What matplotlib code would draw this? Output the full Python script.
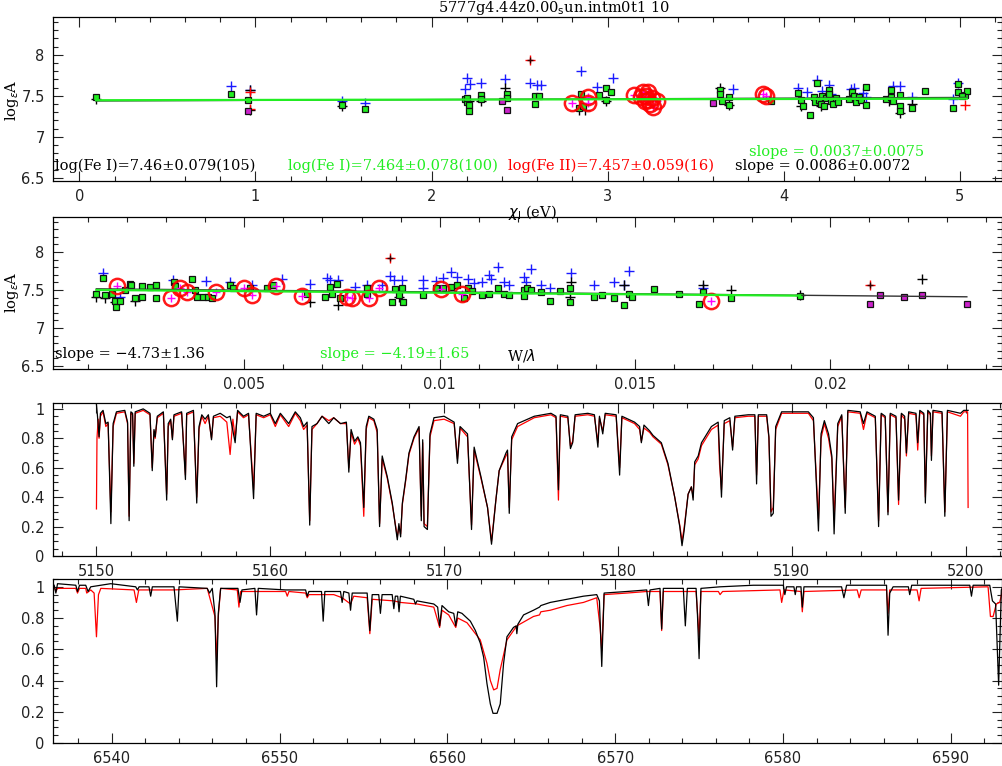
import matplotlib
matplotlib.use("Agg")
import matplotlib.pyplot as plt
from matplotlib.ticker import MultipleLocator, FuncFormatter

# ---- panel 1: abundance vs excitation potential ----
fe1_chi = [0.095, 0.86, 0.96, 1.49, 1.62, 2.19, 2.20, 2.21, 2.20, 2.21, 2.28, 2.28,
           2.43, 2.43, 2.59, 2.61, 2.59, 2.85, 2.84, 2.86, 2.95, 2.99, 3.02, 2.99,
           3.64, 3.64, 3.65, 3.69, 3.69, 3.93, 4.08, 4.10, 4.11, 4.15, 4.19, 4.17,
           4.18, 4.20, 4.21, 4.22, 4.23, 4.24, 4.26, 4.26, 4.27, 4.28, 4.30, 4.31,
           4.37, 4.39, 4.40, 4.41, 4.43, 4.44, 4.47, 4.47, 4.58, 4.61, 4.61, 4.62,
           4.66, 4.66, 4.66, 4.73, 4.80, 4.96, 4.99, 4.99, 5.03, 5.04, 5.01]
fe1_abd = [7.48, 7.52, 7.45, 7.39, 7.34, 7.46, 7.42, 7.39, 7.47, 7.31, 7.51, 7.46,
           7.52, 7.47, 7.50, 7.50, 7.40, 7.52, 7.35, 7.37, 7.51, 7.60, 7.55, 7.45,
           7.57, 7.52, 7.44, 7.49, 7.39, 7.43, 7.53, 7.45, 7.37, 7.27, 7.65, 7.48,
           7.42, 7.45, 7.40, 7.50, 7.38, 7.47, 7.57, 7.52, 7.44, 7.40, 7.47, 7.42,
           7.46, 7.55, 7.50, 7.42, 7.48, 7.45, 7.61, 7.39, 7.46, 7.57, 7.49, 7.44,
           7.51, 7.37, 7.31, 7.35, 7.56, 7.35, 7.64, 7.55, 7.51, 7.56, 7.50]
rej1_chi = [0.96, 2.40, 2.43, 3.60]
rej1_abd = [7.31, 7.43, 7.33, 7.41]
fe2_chi = [2.80, 2.89, 2.89, 3.15, 3.20, 3.22, 3.23, 3.24, 3.26, 3.21, 3.25, 3.19,
           3.23, 3.28, 3.88, 3.90]
fe2_abd = [7.41, 7.49, 7.41, 7.51, 7.54, 7.50, 7.45, 7.40, 7.36, 7.43, 7.47, 7.48,
           7.55, 7.44, 7.52, 7.50]
blue1_chi = [0.86, 0.97, 1.49, 1.62, 2.19, 2.20, 2.22, 2.28, 2.42, 2.56, 2.60, 2.62,
             2.85, 2.94, 3.03, 3.71, 4.08, 4.13, 4.19, 4.22, 4.26, 4.27, 4.38, 4.40,
             4.45, 4.47, 4.62, 4.66, 4.73, 4.96, 4.99]
blue1_abd = [7.62, 7.57, 7.43, 7.41, 7.58, 7.72, 7.64, 7.65, 7.70, 7.65, 7.63, 7.63,
             7.80, 7.61, 7.72, 7.58, 7.60, 7.54, 7.69, 7.56, 7.63, 7.52, 7.58, 7.60,
             7.53, 7.48, 7.62, 7.62, 7.49, 7.46, 7.65]
black1_chi = [0.095, 0.97, 0.97, 1.49, 2.21, 2.28, 2.42, 2.84, 2.87, 2.99,
              3.64, 3.69, 4.10, 4.21, 4.60, 4.66, 4.73]
black1_abd = [7.46, 7.57, 7.33, 7.37, 7.44, 7.44, 7.59, 7.33, 7.33, 7.44,
              7.60, 7.39, 7.38, 7.37, 7.44, 7.29, 7.40]
red1_chi = [0.97, 0.97, 2.56, 5.03]
red1_abd = [7.55, 7.34, 7.93, 7.39]
dark1_chi = [2.56]
dark1_abd = [7.93]
fit1_chi = [0.095, 5.04]
fit1_all = [7.436, 7.479]
fit1_fe1 = [7.445, 7.464]

# ---- panel 2: abundance vs reduced equivalent width ----
fe1_rew = [0.00121, 0.00138, 0.00143, 0.00160, 0.00168, 0.00171, 0.00181, 0.00194,
           0.00207, 0.00211, 0.00220, 0.00237, 0.00237, 0.00258, 0.00275, 0.00275,
           0.00320, 0.00322, 0.00365, 0.00374, 0.00378, 0.00395, 0.00408, 0.00416,
           0.00463, 0.00472, 0.00515, 0.00557, 0.00574, 0.00660, 0.00707, 0.00720,
           0.00724, 0.00737, 0.00745, 0.00814, 0.00814, 0.00879, 0.00887, 0.00896,
           0.00904, 0.00907, 0.00958, 0.00990, 0.01009, 0.01030, 0.01044, 0.01062,
           0.01073, 0.01084, 0.01109, 0.01126, 0.01150, 0.01165, 0.01178, 0.01216,
           0.01225, 0.01216, 0.01235, 0.01259, 0.01283, 0.01309, 0.01334, 0.01334,
           0.01396, 0.01417, 0.01447, 0.01471, 0.01485, 0.01492, 0.01550, 0.01612,
           0.01665, 0.01674, 0.01746, 0.01923]
fe1_abd2 = [7.45, 7.66, 7.43, 7.45, 7.36, 7.28, 7.36, 7.50, 7.58, 7.56, 7.39, 7.55,
            7.41, 7.54, 7.57, 7.39, 7.61, 7.55, 7.64, 7.50, 7.41, 7.41, 7.41, 7.39,
            7.56, 7.52, 7.53, 7.53, 7.56, 7.45, 7.41, 7.54, 7.45, 7.58, 7.39, 7.52,
            7.45, 7.34, 7.51, 7.44, 7.52, 7.34, 7.44, 7.52, 7.52, 7.54, 7.57, 7.40,
            7.53, 7.48, 7.43, 7.45, 7.53, 7.45, 7.43, 7.50, 7.52, 7.42, 7.50, 7.47,
            7.36, 7.48, 7.53, 7.34, 7.41, 7.44, 7.40, 7.30, 7.45, 7.41, 7.51, 7.45,
            7.32, 7.47, 7.40, 7.42]
rej2_rew = [0.02103, 0.02128, 0.02188, 0.02235, 0.02350]
rej2_abd = [7.32, 7.43, 7.41, 7.44, 7.32]
fe2_rew = [0.00175, 0.00313, 0.00335, 0.00352, 0.00427, 0.00500, 0.00519, 0.00581,
           0.00647, 0.00762, 0.00775, 0.00818, 0.00846, 0.01003, 0.01058, 0.01694]
fe2_abd2 = [7.55, 7.39, 7.53, 7.47, 7.47, 7.52, 7.44, 7.55, 7.42, 7.41, 7.39, 7.39,
            7.53, 7.51, 7.45, 7.36]
blue2_rew = [0.00138, 0.00181, 0.00318, 0.00403, 0.00463, 0.00519, 0.00596, 0.00668,
             0.00711, 0.00720, 0.00741, 0.00784, 0.00814, 0.00852, 0.00874, 0.00883,
             0.00904, 0.00958, 0.00958, 0.00990, 0.01009, 0.01030, 0.01044, 0.01073,
             0.01087, 0.01109, 0.01126, 0.01132, 0.01150, 0.01165, 0.01178, 0.01216,
             0.01220, 0.01235, 0.01259, 0.01283, 0.01336, 0.01396, 0.01447, 0.01472,
             0.01485, 0.01674]
blue2_abd = [7.72, 7.41, 7.63, 7.62, 7.61, 7.57, 7.65, 7.58, 7.66, 7.63, 7.63, 7.54,
             7.56, 7.56, 7.69, 7.63, 7.63, 7.63, 7.53, 7.62, 7.66, 7.73, 7.67, 7.65,
             7.59, 7.60, 7.70, 7.64, 7.80, 7.60, 7.57, 7.67, 7.60, 7.78, 7.56, 7.52,
             7.72, 7.56, 7.60, 7.57, 7.75, 7.52]
black2_rew = [0.00121, 0.00143, 0.00168, 0.00220, 0.00668, 0.00741, 0.00896,
              0.01336, 0.01334, 0.01472, 0.01674, 0.01746, 0.01923, 0.02235]
black2_abd = [7.41, 7.39, 7.34, 7.36, 7.34, 7.30, 7.41, 7.60, 7.41, 7.56, 7.56,
              7.50, 7.43, 7.64]
red2_rew = [0.00874, 0.02103]
red2_abd = [7.92, 7.57]
dark2_rew = [0.00874, 0.02103]
dark2_abd = [7.92, 7.57]
fit2_all_x = [0.00121, 0.02350]
fit2_all_y = [7.515, 7.410]
fit2_fe1_x = [0.00121, 0.01923]
fit2_fe1_y = [7.500, 7.425]

# ---- panel 3: Mg b region, observed (black) and synthetic (red) ----
obs3 = [(5150.00, 1.03), (5150.06, 0.95), (5150.15, 0.81), (5150.23, 0.97), (5150.38, 0.99),
        (5150.54, 0.90), (5150.67, 0.91), (5150.83, 0.22), (5150.96, 0.90), (5151.15, 0.98),
        (5151.63, 0.99), (5151.79, 0.91), (5151.88, 0.24), (5151.98, 0.98), (5152.08, 0.97),
        (5152.15, 0.61), (5152.23, 0.98), (5152.69, 1.00), (5153.08, 0.97), (5153.21, 0.58),
        (5153.31, 0.86), (5153.38, 0.81), (5153.50, 0.95), (5153.85, 0.98), (5154.04, 0.38),
        (5154.13, 0.90), (5154.27, 0.93), (5154.37, 0.79), (5154.46, 0.96), (5154.90, 0.98),
        (5155.12, 0.52), (5155.19, 0.97), (5155.58, 0.99), (5155.77, 0.36), (5155.90, 0.88),
        (5156.06, 0.96), (5156.25, 0.93), (5156.44, 0.96), (5156.62, 0.79), (5156.73, 0.95),
        (5157.12, 0.97), (5157.50, 0.94), (5157.69, 0.95), (5157.98, 0.77), (5158.12, 0.99),
        (5158.46, 0.95), (5158.75, 0.97), (5159.04, 0.39), (5159.19, 0.97), (5159.62, 0.95),
        (5160.00, 0.97), (5160.29, 0.90), (5160.58, 0.97), (5161.06, 0.90), (5161.44, 0.98),
        (5161.73, 0.94), (5161.92, 0.88), (5162.12, 0.91), (5162.27, 0.21), (5162.40, 0.88),
        (5162.69, 0.90), (5162.98, 0.95), (5163.37, 0.90), (5163.65, 0.94), (5164.04, 0.90),
        (5164.38, 0.91), (5164.52, 0.57), (5164.65, 0.86), (5164.85, 0.78), (5165.04, 0.81),
        (5165.19, 0.77), (5165.38, 0.33), (5165.52, 0.88), (5165.67, 0.95), (5165.96, 0.93),
        (5166.15, 0.86), (5166.29, 0.20), (5166.44, 0.68), (5166.73, 0.54), (5167.02, 0.36),
        (5167.31, 0.11), (5167.40, 0.22), (5167.50, 0.13), (5167.60, 0.36), (5167.79, 0.52),
        (5167.98, 0.70), (5168.27, 0.81), (5168.56, 0.88), (5168.69, 0.24), (5168.77, 0.79),
        (5168.85, 0.20), (5169.04, 0.18), (5169.19, 0.83), (5169.42, 0.94), (5170.00, 0.95),
        (5170.58, 0.91), (5170.77, 0.63), (5170.92, 0.88), (5171.35, 0.83), (5171.58, 0.18),
        (5171.73, 0.74), (5172.12, 0.54), (5172.50, 0.33), (5172.73, 0.08), (5172.98, 0.38),
        (5173.17, 0.58), (5173.56, 0.70), (5173.65, 0.72), (5173.75, 0.29), (5173.89, 0.81),
        (5174.23, 0.90), (5175.19, 0.95), (5176.15, 0.97), (5176.44, 0.95), (5176.58, 0.45),
        (5176.69, 0.96), (5177.12, 0.95), (5177.27, 0.73), (5177.40, 0.77), (5177.54, 0.96),
        (5178.27, 0.97), (5178.65, 0.96), (5178.85, 0.74), (5178.94, 0.95), (5179.13, 0.83),
        (5179.27, 0.97), (5179.90, 0.96), (5180.10, 0.55), (5180.23, 0.95), (5180.96, 0.91),
        (5181.25, 0.88), (5181.35, 0.77), (5181.50, 0.89), (5181.83, 0.85), (5182.02, 0.82),
        (5182.50, 0.77), (5182.88, 0.63), (5183.27, 0.40), (5183.56, 0.20), (5183.69, 0.07),
        (5183.81, 0.17), (5184.04, 0.42), (5184.23, 0.47), (5184.33, 0.38), (5184.42, 0.64),
        (5184.62, 0.68), (5184.81, 0.77), (5185.38, 0.88), (5185.77, 0.91), (5185.96, 0.40),
        (5186.12, 0.92), (5186.44, 0.94), (5186.60, 0.72), (5186.73, 0.95), (5187.50, 0.96),
        (5187.88, 0.96), (5187.98, 0.49), (5188.08, 0.96), (5188.56, 0.96), (5188.69, 0.81),
        (5188.81, 0.27), (5188.94, 0.29), (5189.08, 0.88), (5189.42, 0.98), (5190.96, 0.98),
        (5191.25, 0.94), (5191.54, 0.17), (5191.69, 0.83), (5191.88, 0.92), (5192.12, 0.83),
        (5192.31, 0.68), (5192.44, 0.15), (5192.65, 0.90), (5192.88, 0.96), (5193.08, 0.29),
        (5193.23, 0.99), (5193.94, 0.98), (5194.13, 0.90), (5194.33, 0.98), (5194.81, 0.95),
        (5195.00, 0.20), (5195.15, 0.97), (5195.38, 0.95), (5195.54, 0.28), (5195.67, 0.97),
        (5196.00, 0.95), (5196.15, 0.38), (5196.31, 0.97), (5196.50, 0.95), (5196.60, 0.70),
        (5196.73, 0.98), (5197.15, 0.97), (5197.25, 0.77), (5197.37, 0.99), (5197.60, 0.97),
        (5197.69, 0.36), (5197.83, 0.99), (5197.98, 0.97), (5198.04, 0.65), (5198.13, 0.99),
        (5198.65, 0.98), (5198.81, 0.27), (5198.96, 0.99), (5199.71, 0.97), (5199.90, 0.99),
        (5200.15, 0.99)]
syn3 = [(5150.00, 0.32), (5150.03, 0.80), (5150.10, 0.93), (5150.15, 0.80), (5150.23, 0.95),
        (5150.38, 0.98), (5150.54, 0.88), (5150.67, 0.90), (5150.83, 0.30), (5150.96, 0.88),
        (5151.15, 0.97), (5151.63, 0.98), (5151.79, 0.90), (5151.88, 0.27), (5151.98, 0.97),
        (5152.08, 0.96), (5152.15, 0.63), (5152.23, 0.97), (5152.69, 0.99), (5153.08, 0.96),
        (5153.21, 0.60), (5153.31, 0.85), (5153.38, 0.80), (5153.50, 0.94), (5153.85, 0.97),
        (5154.04, 0.42), (5154.13, 0.88), (5154.27, 0.92), (5154.37, 0.80), (5154.46, 0.95),
        (5154.90, 0.97), (5155.12, 0.55), (5155.19, 0.96), (5155.58, 0.98), (5155.77, 0.40),
        (5155.90, 0.86), (5156.06, 0.95), (5156.25, 0.90), (5156.44, 0.95), (5156.62, 0.80),
        (5156.73, 0.94), (5157.12, 0.95), (5157.50, 0.91), (5157.69, 0.69), (5157.85, 0.93),
        (5157.98, 0.80), (5158.12, 0.98), (5158.46, 0.94), (5158.75, 0.96), (5159.04, 0.45),
        (5159.19, 0.96), (5159.62, 0.94), (5160.00, 0.96), (5160.29, 0.88), (5160.58, 0.96),
        (5161.06, 0.88), (5161.44, 0.97), (5161.73, 0.92), (5161.92, 0.86), (5162.12, 0.89),
        (5162.27, 0.24), (5162.40, 0.86), (5162.69, 0.90), (5162.98, 0.95), (5163.37, 0.92),
        (5163.65, 0.94), (5164.04, 0.90), (5164.38, 0.90), (5164.52, 0.60), (5164.65, 0.84),
        (5164.85, 0.76), (5165.04, 0.80), (5165.19, 0.75), (5165.38, 0.27), (5165.52, 0.86),
        (5165.67, 0.94), (5165.96, 0.92), (5166.15, 0.84), (5166.29, 0.22), (5166.44, 0.66),
        (5166.73, 0.53), (5167.02, 0.35), (5167.31, 0.13), (5167.40, 0.20), (5167.50, 0.15),
        (5167.60, 0.35), (5167.79, 0.51), (5167.98, 0.69), (5168.27, 0.80), (5168.56, 0.87),
        (5168.69, 0.27), (5168.77, 0.77), (5168.85, 0.22), (5169.04, 0.20), (5169.19, 0.81),
        (5169.42, 0.92), (5170.00, 0.93), (5170.58, 0.90), (5170.77, 0.66), (5170.92, 0.87),
        (5171.35, 0.81), (5171.58, 0.21), (5171.73, 0.72), (5172.12, 0.53), (5172.50, 0.33),
        (5172.73, 0.10), (5172.98, 0.38), (5173.17, 0.58), (5173.56, 0.68), (5173.65, 0.70),
        (5173.75, 0.33), (5173.89, 0.79), (5174.23, 0.88), (5175.19, 0.94), (5176.15, 0.96),
        (5176.44, 0.94), (5176.58, 0.38), (5176.69, 0.95), (5177.12, 0.94), (5177.27, 0.75),
        (5177.40, 0.78), (5177.54, 0.95), (5178.27, 0.96), (5178.65, 0.95), (5178.85, 0.77),
        (5178.94, 0.94), (5179.13, 0.85), (5179.27, 0.96), (5179.90, 0.95), (5180.10, 0.60),
        (5180.23, 0.94), (5180.96, 0.90), (5181.25, 0.86), (5181.35, 0.78), (5181.50, 0.87),
        (5181.83, 0.84), (5182.02, 0.81), (5182.50, 0.76), (5182.88, 0.62), (5183.27, 0.40),
        (5183.56, 0.21), (5183.69, 0.10), (5183.81, 0.19), (5184.04, 0.42), (5184.23, 0.47),
        (5184.33, 0.40), (5184.42, 0.62), (5184.62, 0.66), (5184.81, 0.75), (5185.38, 0.86),
        (5185.77, 0.89), (5185.85, 0.62), (5185.96, 0.45), (5186.12, 0.90), (5186.44, 0.92),
        (5186.60, 0.74), (5186.73, 0.94), (5187.50, 0.95), (5187.88, 0.95), (5187.98, 0.55),
        (5188.08, 0.95), (5188.56, 0.95), (5188.69, 0.80), (5188.81, 0.30), (5188.94, 0.33),
        (5189.08, 0.86), (5189.42, 0.97), (5190.96, 0.97), (5191.25, 0.92), (5191.54, 0.25),
        (5191.69, 0.80), (5191.88, 0.90), (5192.12, 0.80), (5192.31, 0.66), (5192.44, 0.25),
        (5192.65, 0.88), (5192.88, 0.95), (5193.08, 0.33), (5193.23, 0.98), (5193.94, 0.97),
        (5194.13, 0.86), (5194.33, 0.97), (5194.81, 0.94), (5195.00, 0.24), (5195.15, 0.96),
        (5195.38, 0.94), (5195.54, 0.30), (5195.67, 0.96), (5196.00, 0.94), (5196.15, 0.35),
        (5196.31, 0.96), (5196.50, 0.93), (5196.60, 0.68), (5196.73, 0.97), (5197.15, 0.96),
        (5197.25, 0.72), (5197.37, 0.98), (5197.60, 0.96), (5197.69, 0.40), (5197.83, 0.98),
        (5197.98, 0.96), (5198.04, 0.68), (5198.13, 0.98), (5198.65, 0.97), (5198.81, 0.30),
        (5198.96, 0.98), (5199.71, 0.95), (5199.90, 0.98), (5200.12, 0.98), (5200.15, 0.33)]

# ---- panel 4: H-alpha region ----
obs4 = [(6536.57, 1.01), (6536.67, 0.96), (6536.77, 1.02), (6537.86, 1.01), (6537.96, 0.97),
        (6538.08, 1.01), (6538.45, 1.01), (6538.59, 0.97), (6538.75, 1.00), (6539.94, 1.02),
        (6541.43, 1.00), (6541.53, 0.98), (6541.63, 1.00), (6542.22, 1.00), (6542.32, 0.94),
        (6542.42, 1.00), (6543.71, 1.00), (6543.91, 0.78), (6544.01, 1.00), (6545.69, 0.99),
        (6545.83, 0.96), (6545.99, 0.99), (6546.15, 0.83), (6546.25, 0.36), (6546.35, 0.83),
        (6546.49, 0.99), (6547.52, 0.99), (6547.64, 0.90), (6547.76, 0.98), (6548.53, 0.99),
        (6548.63, 0.82), (6548.73, 0.99), (6550.36, 0.98), (6551.55, 0.98), (6551.65, 0.94),
        (6551.75, 0.97), (6552.50, 0.97), (6552.60, 0.78), (6552.70, 0.97), (6553.63, 0.97),
        (6553.73, 0.90), (6553.83, 0.97), (6554.13, 0.96), (6554.23, 0.85), (6554.33, 0.96),
        (6555.22, 0.96), (6555.38, 0.72), (6555.52, 0.95), (6555.91, 0.95), (6556.01, 0.83),
        (6556.11, 0.95), (6556.71, 0.95), (6556.81, 0.86), (6556.90, 0.94), (6557.04, 0.94),
        (6557.12, 0.84), (6557.20, 0.94), (6558.00, 0.92), (6558.10, 0.89), (6558.19, 0.91),
        (6559.19, 0.89), (6559.42, 0.87), (6559.54, 0.75), (6559.68, 0.88), (6560.08, 0.84),
        (6560.38, 0.83), (6560.50, 0.75), (6560.62, 0.84), (6560.87, 0.83), (6561.37, 0.78),
        (6561.67, 0.72), (6561.96, 0.64), (6562.16, 0.55), (6562.36, 0.38), (6562.56, 0.25),
        (6562.72, 0.19), (6562.96, 0.19), (6563.15, 0.25), (6563.35, 0.51), (6563.55, 0.68),
        (6563.94, 0.74), (6564.10, 0.75), (6564.14, 0.70), (6564.20, 0.76), (6564.54, 0.82),
        (6565.13, 0.85), (6565.49, 0.87), (6565.57, 0.88), (6566.13, 0.90), (6567.12, 0.92),
        (6568.11, 0.94), (6568.90, 0.95), (6569.06, 0.91), (6569.20, 0.49), (6569.34, 0.96),
        (6570.69, 0.97), (6571.88, 0.98), (6571.98, 0.88), (6572.08, 0.98), (6572.67, 0.99),
        (6572.77, 0.73), (6572.87, 0.99), (6574.06, 0.99), (6574.18, 0.75), (6574.30, 0.99),
        (6574.82, 0.99), (6574.90, 0.83), (6575.00, 0.54), (6575.11, 0.99), (6576.25, 1.00),
        (6578.23, 1.01), (6580.02, 1.01), (6580.11, 0.95), (6580.21, 1.00), (6580.65, 1.00),
        (6580.73, 0.95), (6580.81, 1.00), (6581.07, 1.00), (6581.15, 0.87), (6581.25, 1.00),
        (6583.49, 1.00), (6583.63, 0.93), (6583.79, 1.01), (6586.17, 1.01), (6586.26, 0.69),
        (6586.36, 0.96), (6586.56, 1.00), (6587.47, 1.00), (6587.55, 0.95), (6587.67, 1.01),
        (6591.13, 1.01), (6591.23, 0.94), (6591.33, 1.01), (6592.32, 1.01), (6592.48, 0.91),
        (6592.67, 0.89), (6592.85, 0.37), (6593.01, 0.98), (6593.09, 1.00)]
syn4 = [(6536.57, 1.00), (6536.67, 0.97), (6536.77, 0.99), (6537.86, 0.99), (6537.96, 0.96),
        (6538.08, 0.99), (6538.45, 0.99), (6538.51, 0.96), (6538.75, 0.98), (6538.95, 0.96),
        (6539.09, 0.68), (6539.21, 0.95), (6539.35, 0.99), (6541.33, 0.98), (6541.47, 0.90),
        (6541.61, 0.98), (6543.71, 0.98), (6545.69, 0.99), (6546.15, 0.81), (6546.25, 0.53),
        (6546.35, 0.81), (6546.49, 0.99), (6547.48, 0.98), (6547.58, 0.87), (6547.68, 0.97),
        (6550.36, 0.97), (6550.46, 0.94), (6550.56, 0.97), (6551.55, 0.96), (6551.65, 0.93),
        (6551.75, 0.95), (6553.23, 0.95), (6553.73, 0.93), (6554.23, 0.89), (6554.42, 0.94),
        (6555.22, 0.93), (6555.38, 0.70), (6555.52, 0.92), (6556.81, 0.91), (6557.20, 0.90),
        (6558.19, 0.89), (6559.19, 0.87), (6559.54, 0.74), (6559.68, 0.85), (6560.08, 0.82),
        (6560.50, 0.74), (6560.62, 0.80), (6561.17, 0.77), (6561.96, 0.66), (6562.36, 0.51),
        (6562.56, 0.40), (6562.76, 0.34), (6562.96, 0.35), (6563.15, 0.47), (6563.55, 0.66),
        (6564.14, 0.75), (6565.13, 0.81), (6565.49, 0.82), (6565.57, 0.84), (6566.13, 0.85),
        (6567.12, 0.88), (6568.11, 0.90), (6568.90, 0.93), (6569.10, 0.74), (6569.20, 0.59),
        (6569.34, 0.95), (6570.69, 0.96), (6571.88, 0.97), (6572.67, 0.97), (6572.77, 0.72),
        (6572.87, 0.97), (6574.82, 0.97), (6575.00, 0.68), (6575.11, 0.97), (6576.15, 0.97),
        (6576.25, 0.95), (6576.40, 0.97), (6579.82, 0.98), (6579.92, 0.90), (6580.06, 0.98),
        (6581.07, 0.97), (6581.15, 0.84), (6581.25, 0.97), (6584.42, 0.98), (6584.54, 0.93),
        (6584.66, 0.98), (6586.17, 0.98), (6586.26, 0.83), (6586.36, 0.98), (6587.99, 0.98),
        (6588.11, 0.91), (6588.23, 0.99), (6592.22, 1.00), (6592.36, 0.81), (6592.52, 0.81),
        (6592.71, 0.89), (6592.91, 0.90), (6593.09, 0.98)]

GREEN = '#22ee22'
SERIF = 'DejaVu Serif'
plt.rcParams['font.family'] = 'DejaVu Sans'
plt.rcParams['axes.linewidth'] = 0.9

fig = plt.figure(figsize=(10.03, 7.66), dpi=100)
W, H = 1003.0, 766.0


def box(l, t, r, b):
    return [l / W, 1 - b / H, (r - l) / W, (b - t) / H]


def style(ax, xmaj, xmin, ymaj, ymin):
    ax.xaxis.set_major_locator(MultipleLocator(xmaj))
    ax.xaxis.set_minor_locator(MultipleLocator(xmin))
    ax.yaxis.set_major_locator(MultipleLocator(ymaj))
    ax.yaxis.set_minor_locator(MultipleLocator(ymin))
    ax.xaxis.set_major_formatter(FuncFormatter(lambda v, p: '%g' % round(v, 6)))
    ax.yaxis.set_major_formatter(FuncFormatter(lambda v, p: '%g' % round(v, 6)))
    ax.tick_params(which='both', direction='in', top=True, right=True,
                   labelsize=10.5, width=0.8, colors='#222222')
    ax.tick_params(which='major', length=7, pad=6)
    ax.tick_params(which='minor', length=3.5)


def abund_points(ax, bx, by, kx, ky, rx, ry, gx, gy, mx, my, cx, cy, dx, dy):
    ax.plot(bx, by, '+', color='#1a1aff', ms=7, mew=1.0, ls='none')
    ax.plot(kx, ky, '+', color='k', ms=7, mew=1.0, ls='none')
    ax.plot(rx, ry, '+', color='red', ms=7, mew=1.0, ls='none')
    ax.plot(dx, dy, '+', color='#330000', ms=4, mew=1.0, ls='none')
    ax.plot(gx, gy, 's', mfc=GREEN, mec='#111111', ms=4.2, mew=0.9, ls='none')
    ax.plot(mx, my, 's', mfc='#cc22cc', mec='#111111', ms=4.2, mew=0.9, ls='none')
    ax.plot(cx, cy, '+', color='magenta', ms=6, mew=1.0, ls='none')
    ax.plot(cx, cy, 'o', mfc='none', mec='red', ms=11, mew=1.8, ls='none', alpha=0.9)


# panel 1
ax1 = fig.add_axes(box(53, 17, 1002, 181))
abund_points(ax1, blue1_chi, blue1_abd, black1_chi, black1_abd, red1_chi, red1_abd,
             fe1_chi, fe1_abd, rej1_chi, rej1_abd, fe2_chi, fe2_abd, dark1_chi, dark1_abd)
ax1.plot(fit1_chi, fit1_all, color='#333333', lw=1.0)
ax1.plot(fit1_chi, fit1_fe1, color=GREEN, lw=1.6)
ax1.set_xlim(-0.15, 5.24)
ax1.set_ylim(6.46, 8.46)
style(ax1, 1, 0.2, 0.5, 0.1)
ax1.text(0.002, 0.09, 'log(Fe I)=7.46\u00b10.079(105)', transform=ax1.transAxes,
         family=SERIF, fontsize=10.5, color='k', va='center')
ax1.text(0.248, 0.09, 'log(Fe I)=7.464\u00b10.078(100)', transform=ax1.transAxes,
         family=SERIF, fontsize=10.5, color=GREEN, va='center')
ax1.text(0.479, 0.09, 'log(Fe II)=7.457\u00b10.059(16)', transform=ax1.transAxes,
         family=SERIF, fontsize=10.5, color='red', va='center')
ax1.text(0.733, 0.175, 'slope = 0.0037\u00b10.0075', transform=ax1.transAxes,
         family=SERIF, fontsize=10.5, color=GREEN, va='center')
ax1.text(0.719, 0.09, 'slope = 0.0086\u00b10.0072', transform=ax1.transAxes,
         family=SERIF, fontsize=10.5, color='k', va='center')
fig.text(438 / W, 1 - 8 / H, r'5777g4.44z0.00$_{\rm s}$un.intm0t1 10', family=SERIF,
         fontsize=10.5, va='center', ha='left')
fig.text(12 / W, 1 - 100 / H, r'log$_\epsilon$A', rotation=90, family=SERIF,
         fontsize=10.5, va='center', ha='center')
fig.text(508 / W, 1 - 212 / H, r'$\chi_{\rm l}$ (eV)', family=SERIF, fontsize=10.5,
         va='center', ha='left')

# panel 2
ax2 = fig.add_axes(box(53, 217, 1002, 369))
abund_points(ax2, blue2_rew, blue2_abd, black2_rew, black2_abd, red2_rew, red2_abd,
             fe1_rew, fe1_abd2, rej2_rew, rej2_abd, fe2_rew, fe2_abd2, dark2_rew, dark2_abd)
ax2.plot(fit2_all_x, fit2_all_y, color='#333333', lw=1.0)
ax2.plot(fit2_fe1_x, fit2_fe1_y, color=GREEN, lw=1.6)
ax2.set_xlim(0.0001, 0.0244)
ax2.set_ylim(6.46, 8.46)
style(ax2, 0.005, 0.001, 0.5, 0.1)
ax2.text(0.002, 0.1, 'slope = \u22124.73\u00b11.36', transform=ax2.transAxes,
         family=SERIF, fontsize=10.5, color='k', va='center')
ax2.text(0.281, 0.1, 'slope = \u22124.19\u00b11.65', transform=ax2.transAxes,
         family=SERIF, fontsize=10.5, color=GREEN, va='center')
ax2.text(0.478, 0.09, r'W/$\lambda$', transform=ax2.transAxes, family=SERIF,
         fontsize=10.5, va='center')
fig.text(12 / W, 1 - 292 / H, r'log$_\epsilon$A', rotation=90, family=SERIF,
         fontsize=10.5, va='center', ha='center')

# panel 3
ax3 = fig.add_axes(box(53, 403, 1002, 556))
ax3.plot([p[0] for p in syn3], [p[1] for p in syn3], color='red', lw=0.9)
ax3.plot([p[0] for p in obs3], [p[1] for p in obs3], color='k', lw=0.9)
ax3.set_xlim(5147.5, 5202.1)
ax3.set_ylim(0, 1.04)
style(ax3, 10, 2, 0.2, 0.05)

# panel 4
ax4 = fig.add_axes(box(53, 579, 1002, 743))
ax4.plot([p[0] for p in syn4], [p[1] for p in syn4], color='red', lw=0.9)
ax4.plot([p[0] for p in obs4], [p[1] for p in obs4], color='k', lw=0.9)
ax4.set_xlim(6536.5, 6593.05)
ax4.set_ylim(0, 1.05)
style(ax4, 10, 2, 0.2, 0.05)

fig.savefig('out.png', dpi=100)
